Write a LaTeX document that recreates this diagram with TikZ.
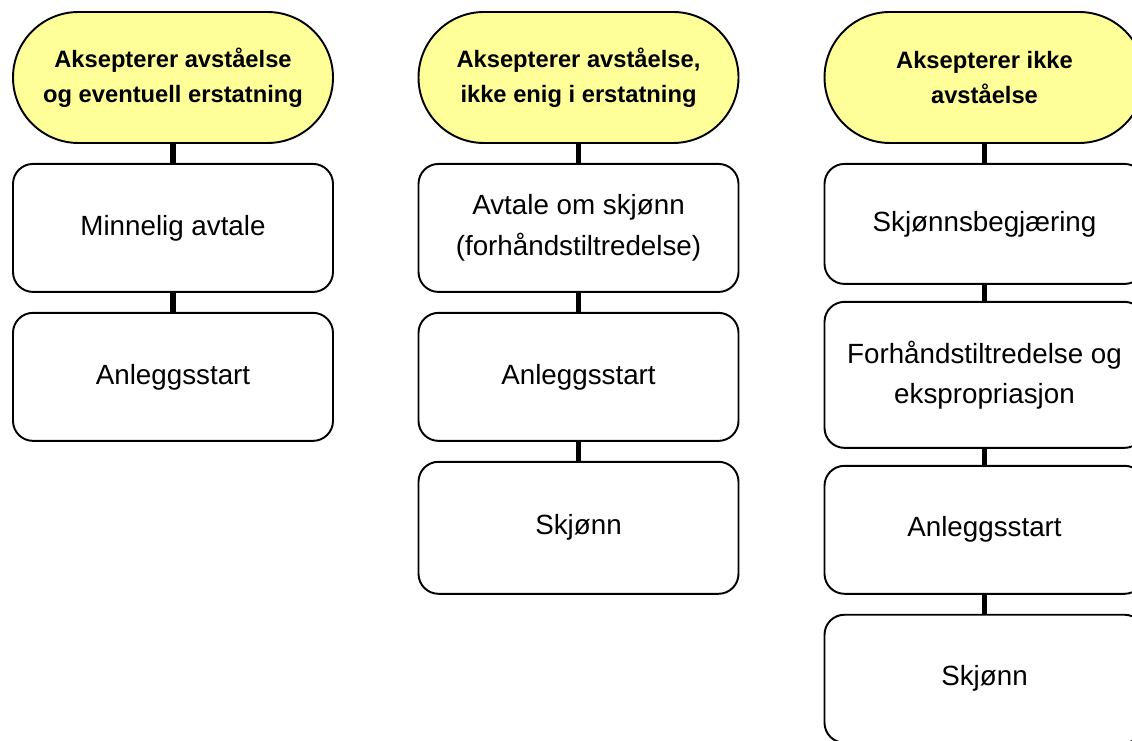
\documentclass[tikz,border=0pt]{standalone}
\usepackage{fontspec}
\setmainfont{Liberation Sans}
\usetikzlibrary{positioning}
\definecolor{startgul}{RGB}{255,255,153}
\tikzset{
  start/.style={draw,line width=1.1pt,fill=startgul,rounded corners=1.31cm,
    minimum width=6.4cm,minimum height=2.62cm,align=center,
    font=\fontsize{13.5}{19.8}\selectfont\bfseries},
  boks/.style={draw,line width=1.1pt,rounded corners=0.4cm,
    minimum width=6.4cm,minimum height=2.56cm,align=center,
    font=\fontsize{15.8}{22.9}\selectfont},
  link/.style={line width=3pt}
}

\begin{document}
\begin{tikzpicture}[node distance=0.38cm]
  \useasboundingbox (0,0) rectangle (22.64,-14.82);
  % kolonne 1
  \node[start] (s1) at (3.46,-1.55) {Aksepterer avståelse\\og eventuell erstatning};
  \node[boks,below=of s1] (a1) {Minnelig avtale};
  \node[boks,below=of a1] (b1) {Anleggsstart};
  \draw[link] (s1) -- (a1);
  \draw[link] (a1) -- (b1);
  % kolonne 2
  \node[start] (s2) at (11.57,-1.55) {Aksepterer avståelse,\\ikke enig i erstatning};
  \node[boks,below=of s2] (a2) {Avtale om skjønn\\(forhåndstiltredelse)};
  \node[boks,below=of a2] (b2) {Anleggsstart};
  \node[boks,below=of b2,minimum height=2.64cm] (c2) {Skjønn};
  \draw[link] (s2) -- (a2);
  \draw[link] (a2) -- (b2);
  \draw[link] (b2) -- (c2);
  % kolonne 3
  \node[start] (s3) at (19.69,-1.55) {Aksepterer ikke\\avståelse};
  \node[boks,below=of s3,minimum height=2.4cm] (a3) {Skjønnsbegjæring};
  \node[boks,below=0.32cm of a3,minimum height=2.92cm] (b3) {Forhåndstiltredelse og\\ekspropriasjon};
  \node[boks,below=0.32cm of b3] (c3) {Anleggsstart};
  \node[boks,below=of c3] (d3) {Skjønn};
  \draw[link] (s3) -- (a3);
  \draw[link] (a3) -- (b3);
  \draw[link] (b3) -- (c3);
  \draw[link] (c3) -- (d3);
\end{tikzpicture}
\end{document}
